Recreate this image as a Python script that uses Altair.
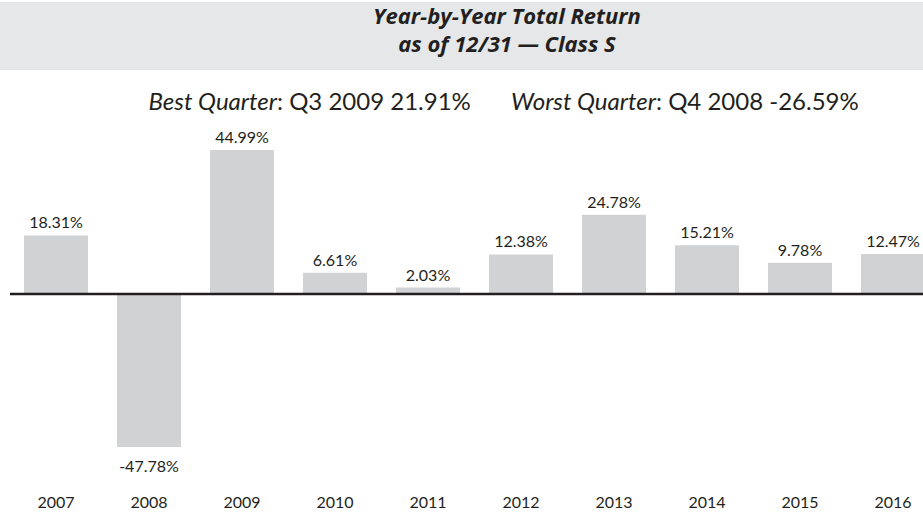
import altair as alt
import pandas as pd

years = ["2007", "2008", "2009", "2010", "2011", "2012", "2013", "2014", "2015", "2016"]
returns = [18.31, -47.78, 44.99, 6.61, 2.03, 12.38, 24.78, 15.21, 9.78, 12.47]

title_lines = ["Year-by-Year Total Return", "as of 12/31 \u2014 Class S"]
best_label = "Best Quarter"
best_text = ": Q3 2009 21.91%"
worst_label = "Worst Quarter"
worst_text = ": Q4 2008 -26.59%"

FONT = "Lato"
TFONT = "Open Sans"
TXT = "#231f20"

df = pd.DataFrame({"year": years, "ret": returns})
df["label"] = [f"{v:.2f}%" for v in returns]

xscale = alt.Scale(range=[9.5, 939.5], paddingInner=0.312, paddingOuter=0.156)
yscale = alt.Scale(domain=[-60, 70], range=[486, 70])

base = alt.Chart(df)

header = alt.Chart(alt.Data(values=[{}])).mark_rect(color="#e6e7e8").encode(
    x=alt.value(0), x2=alt.value(923), y=alt.value(2), y2=alt.value(70)
)

t1 = alt.Chart(alt.Data(values=[{"t": title_lines[0]}])).mark_text(
    font=TFONT, fontSize=22, fontStyle="italic", fontWeight="bold", color=TXT, baseline="middle"
).encode(x=alt.value(507), y=alt.value(17), text="t:N")
t2 = alt.Chart(alt.Data(values=[{"t": title_lines[1]}])).mark_text(
    font=TFONT, fontSize=22, fontStyle="italic", fontWeight="bold", color=TXT, baseline="middle"
).encode(x=alt.value(507), y=alt.value(45), text="t:N")

def piece(txt, xpos, align, italic):
    kw = dict(font=FONT, fontSize=24, color=TXT, baseline="middle", align=align)
    if italic:
        kw["fontStyle"] = "italic"
    return alt.Chart(alt.Data(values=[{"t": txt}])).mark_text(**kw).encode(
        x=alt.value(xpos), y=alt.value(103), text="t:N"
    )

sub = [
    piece(best_label, 277, "right", True),
    piece(best_text, 277, "left", False),
    piece(worst_label, 656, "right", True),
    piece(worst_text, 656, "left", False),
]

bars = base.mark_bar(color="#d1d2d4").encode(
    x=alt.X("year:N", scale=xscale, axis=None, sort=years),
    y=alt.Y("ret:Q", scale=yscale, axis=None),
    y2=alt.datum(0),
)

zero = alt.Chart(alt.Data(values=[{}])).mark_rule(color="#231f20", strokeWidth=2.5).encode(
    y=alt.datum(0), x=alt.value(10), x2=alt.value(923)
)

pos_lbl = base.transform_filter("datum.ret >= 0").mark_text(
    font=FONT, fontSize=16, color=TXT, baseline="middle", dy=-12
).encode(x=alt.X("year:N", sort=years), y="ret:Q", text="label:N")

neg_lbl = base.transform_filter("datum.ret < 0").mark_text(
    font=FONT, fontSize=16, color=TXT, baseline="middle", dy=20
).encode(x=alt.X("year:N", sort=years), y="ret:Q", text="label:N")

year_lbl = base.mark_text(font=FONT, fontSize=16, color=TXT, baseline="middle").encode(
    x=alt.X("year:N", sort=years), y=alt.value(503), text="year:N"
)

chart = alt.layer(header, t1, t2, *sub, bars, zero, pos_lbl, neg_lbl, year_lbl).properties(
    width=923, height=520, autosize=alt.AutoSizeParams(type="none"), padding=0,
    background="white",
).configure_view(stroke=None)

chart.save("out.html", embed_options={"renderer": "svg", "actions": False})
